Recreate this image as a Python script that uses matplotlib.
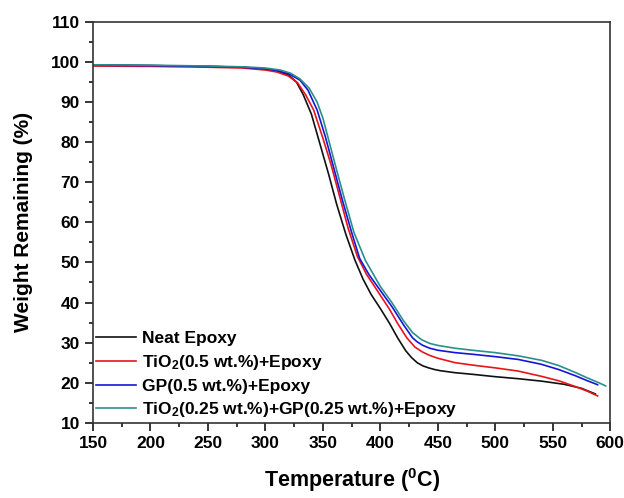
import matplotlib
matplotlib.use("Agg")
import matplotlib.pyplot as plt
from matplotlib.ticker import MultipleLocator

plt.rcParams['font.family'] = ['Liberation Sans', 'DejaVu Sans']
plt.rcParams['font.weight'] = 'bold'
plt.rcParams['mathtext.fontset'] = 'custom'
plt.rcParams['mathtext.rm'] = 'Liberation Sans:bold'
plt.rcParams['mathtext.bf'] = 'Liberation Sans:bold'
plt.rcParams['mathtext.default'] = 'bf'

# TGA data
t_neat = [150, 200, 250, 280, 300, 310, 320, 327, 333, 340, 348, 355, 362, 370, 378, 385, 392, 400,
          408, 415, 422, 427, 432, 437, 442, 447, 452, 465, 480, 500, 520, 540, 560, 575, 587]
w_neat = [99.3, 99.1, 98.9, 98.7, 98.3, 97.8, 96.8, 95.0, 91.8, 87.0, 79.0, 72.0, 64.5, 57.0, 50.5,
          45.8, 42.0, 38.5, 34.8, 31.2, 28.0, 26.3, 25.0, 24.2, 23.7, 23.3, 23.0, 22.5, 22.1, 21.5,
          21.0, 20.4, 19.6, 18.6, 17.2]

t_tio2 = [150, 200, 250, 280, 300, 310, 320, 328, 335, 342, 350, 357, 365, 372, 380, 388, 395, 400,
          408, 415, 423, 430, 437, 443, 450, 465, 480, 500, 520, 540, 555, 570, 580, 589]
w_tio2 = [99.0, 98.9, 98.7, 98.5, 98.0, 97.5, 96.5, 94.8, 91.8, 88.0, 81.0, 74.5, 66.0, 58.5, 51.5,
          47.0, 44.0, 41.8, 38.3, 34.8, 31.2, 28.9, 27.6, 26.8, 26.1, 25.0, 24.4, 23.7, 22.9, 21.6,
          20.5, 19.0, 17.9, 16.7]

t_gp = [150, 200, 250, 280, 300, 310, 320, 330, 337, 345, 352, 360, 367, 375, 382, 390, 400, 410,
        420, 428, 432, 437, 443, 450, 465, 480, 500, 520, 540, 555, 570, 580, 589]
w_gp = [99.2, 99.1, 98.9, 98.7, 98.3, 97.9, 97.1, 95.5, 93.0, 88.0, 81.5, 73.0, 65.5, 57.5, 51.0,
        47.0, 43.0, 39.0, 34.5, 31.2, 30.2, 29.3, 28.6, 28.1, 27.5, 27.1, 26.5, 25.8, 24.6, 23.3,
        21.7, 20.5, 19.5]

t_hyb = [150, 200, 250, 280, 300, 313, 322, 330, 338, 345, 350, 356, 362, 369, 377, 387, 395, 400,
         410, 420, 428, 436, 443, 450, 465, 480, 500, 520, 540, 555, 570, 580, 590, 596]
w_hyb = [99.3, 99.2, 99.0, 98.8, 98.5, 98.0, 97.2, 95.8, 93.5, 90.0, 86.0, 79.5, 73.0, 65.6, 57.5,
         50.5, 46.5, 44.0, 40.0, 35.5, 32.5, 30.7, 29.8, 29.3, 28.6, 28.1, 27.5, 26.7, 25.6, 24.3,
         22.5, 21.2, 20.0, 19.2]

labels = ['Neat Epoxy',
          r'TiO$_{2}$(0.5 wt.%)+Epoxy',
          'GP(0.5 wt.%)+Epoxy',
          r'TiO$_{2}$(0.25 wt.%)+GP(0.25 wt.%)+Epoxy']
colors = ['#111111', '#e8141a', '#1515d8', '#2a8f8c']

fig = plt.figure(figsize=(6.24, 4.98), dpi=100)
ax = fig.add_axes([0.149, 0.151, 0.829, 0.805])

for t, w, lab, c in zip([t_neat, t_tio2, t_gp, t_hyb], [w_neat, w_tio2, w_gp, w_hyb], labels, colors):
    ax.plot(t, w, color=c, lw=1.2, label=lab)

ax.set_xlim(150, 600)
ax.set_ylim(10, 110)
ax.xaxis.set_major_locator(MultipleLocator(50))
ax.xaxis.set_minor_locator(MultipleLocator(25))
ax.yaxis.set_major_locator(MultipleLocator(10))
ax.yaxis.set_minor_locator(MultipleLocator(5))
ax.tick_params(which='both', direction='out', top=False, right=False, width=1.1, labelsize=12.5)
ax.tick_params(which='major', length=6)
ax.tick_params(which='minor', length=3)
for s in ax.spines.values():
    s.set_linewidth(1.2)
    s.set_color('#333333')
for lbl in ax.get_xticklabels() + ax.get_yticklabels():
    lbl.set_fontweight('bold')

ax.set_xlabel(r'Temperature ($^{0}$C)', fontsize=15.5, fontweight='bold', labelpad=11)
ax.set_ylabel('Weight Remaining (%)', fontsize=15, fontweight='bold', labelpad=13)

leg = ax.legend(loc='lower left', bbox_to_anchor=(0.0, 0.0), frameon=False,
                prop={'size': 12.5, 'weight': 'bold'}, handlelength=2.3, handletextpad=0.3,
                labelspacing=0.38, borderaxespad=0.0, borderpad=0.2)

fig.savefig('out.png', dpi=100)
